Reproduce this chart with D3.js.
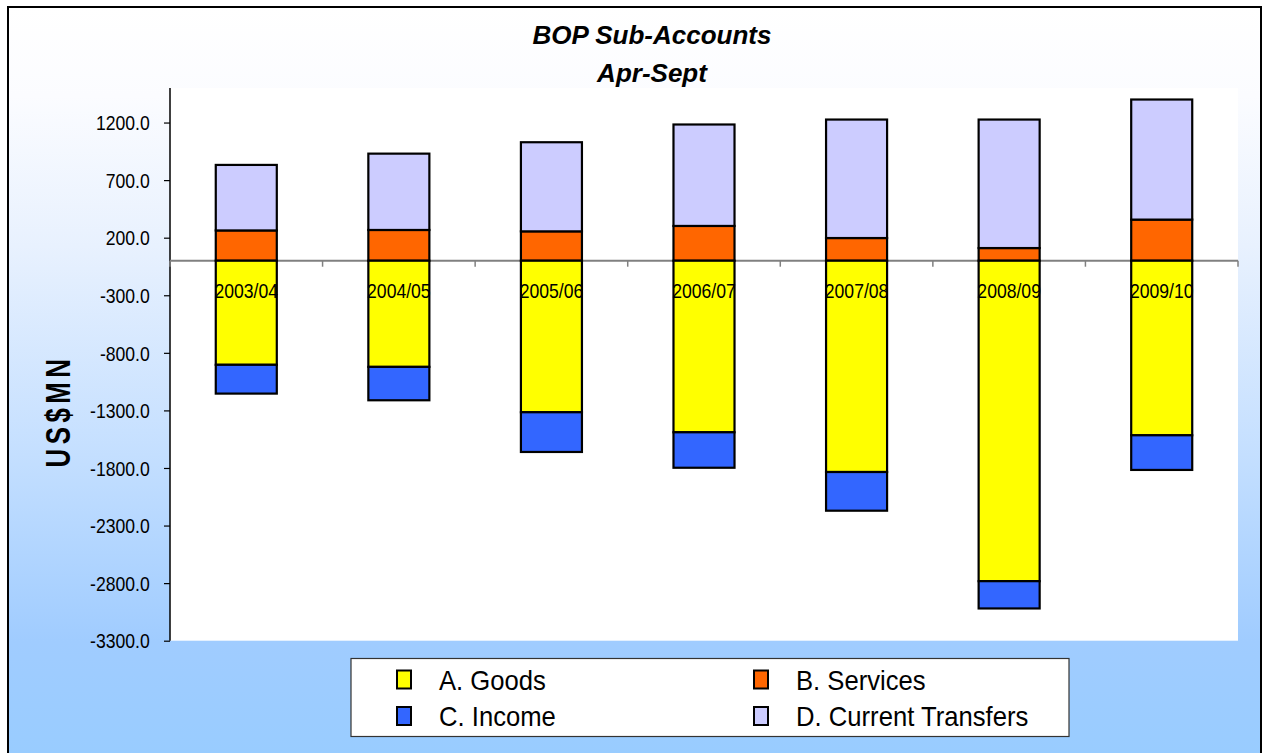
<!DOCTYPE html>
<html>
<head>
<meta charset="utf-8">
<script src="https://cdn.jsdelivr.net/npm/d3@7"></script>
<style>
  html, body { margin: 0; padding: 0; background: #ffffff; }
  svg { display: block; }
  text { font-family: "Liberation Sans", Arial, sans-serif; }
</style>
</head>
<body>
<svg id="chart" width="1262" height="753"></svg>
<script>
const categories = ["2003/04", "2004/05", "2005/06", "2006/07", "2007/08", "2008/09", "2009/10"];
const goods = [-904, -922, -1316, -1490, -1835, -2783, -1516];
const services = [263, 267, 255, 302, 197, 110, 357];
const income = [-250, -290, -345, -308, -336, -237, -301];
const transfers = [569, 663, 774, 881, 1029, 1116, 1043];
const seriesNames = ["A. Goods", "B. Services", "C. Income", "D. Current Transfers"];
const seriesColors = ["#FFFF00", "#FF6600", "#3366FF", "#CCCCFF"];
const yTicks = [-3300, -2800, -2300, -1800, -1300, -800, -300, 200, 700, 1200];
const titleLines = ["BOP Sub-Accounts", "Apr-Sept"];
const yTitle = "US$MN";

const svg = d3.select("#chart");
const defs = svg.append("defs");
const grad = defs.append("linearGradient")
  .attr("id", "bg").attr("gradientUnits", "userSpaceOnUse")
  .attr("x1", 0).attr("y1", 7).attr("x2", 0).attr("y2", 753);
[[0, "#ffffff"], [0.12, "#fbfcff"], [0.32, "#e8f1fe"], [0.6, "#c4dfff"], [0.85, "#a0ccff"], [1, "#99ccff"]]
  .forEach(([o, c]) => grad.append("stop").attr("offset", o).attr("stop-color", c));

// outer chart area
svg.append("rect").attr("x", 8).attr("y", 7).attr("width", 1253).attr("height", 760)
  .attr("fill", "url(#bg)").attr("stroke", "#000").attr("stroke-width", 2);

const plot = { left: 170, right: 1238, top: 88, bottom: 640.7 };

svg.append("rect").attr("x", plot.left).attr("y", plot.top)
  .attr("width", plot.right - plot.left).attr("height", plot.bottom - plot.top)
  .attr("fill", "#ffffff");

const x = d3.scaleBand().domain(categories).range([plot.left, plot.right])
  .paddingInner(0.6).paddingOuter(0.3);
const y = d3.scaleLinear().domain([-3300, 1500]).range([plot.bottom, plot.top]);

// title
svg.append("text").attr("x", 652).attr("y", 44).attr("text-anchor", "middle")
  .attr("font-size", 26).attr("font-weight", "bold").attr("font-style", "italic")
  .text(titleLines[0]);
svg.append("text").attr("x", 652).attr("y", 82).attr("text-anchor", "middle")
  .attr("font-size", 26).attr("font-weight", "bold").attr("font-style", "italic")
  .text(titleLines[1]);

// y axis
const yAxis = svg.append("g").attr("transform", `translate(${plot.left},0)`)
  .call(d3.axisLeft(y).tickValues(yTicks).tickFormat(d => d.toFixed(1)).tickSize(6).tickSizeOuter(0));
yAxis.select(".domain").attr("stroke", "#000").attr("stroke-width", 1.5)
  .attr("d", `M0,${plot.top}V${plot.bottom}`);
yAxis.selectAll(".tick line").attr("stroke", "#000").attr("stroke-width", 1.2);
yAxis.selectAll(".tick text")
  .attr("font-size", 20).attr("fill", "#000")
  .attr("x", -23).attr("dy", "0.36em")
  .attr("transform", "scale(0.88,1)");

// y axis title
svg.append("text")
  .attr("transform", "translate(70,411) rotate(-90) scale(0.74,1)")
  .attr("text-anchor", "middle").attr("font-size", 35).attr("font-weight", "bold")
  .attr("letter-spacing", 6).text(yTitle);

// stacks
const stacks = categories.map((c, i) => {
  const segs = [];
  segs.push({ c, s: 1, y0: 0, y1: services[i] });
  segs.push({ c, s: 3, y0: services[i], y1: services[i] + transfers[i] });
  segs.push({ c, s: 0, y0: 0, y1: goods[i] });
  segs.push({ c, s: 2, y0: goods[i], y1: goods[i] + income[i] });
  return segs;
}).flat();

// baseline (zero line)
svg.append("line").attr("x1", plot.left).attr("x2", plot.right)
  .attr("y1", y(0)).attr("y2", y(0)).attr("stroke", "#808080").attr("stroke-width", 2);
const step = x.step();
const bounds = d3.range(categories.length + 1).map(k => plot.left + k * step);
svg.append("g").selectAll("line").data(bounds).join("line")
  .attr("x1", d => d).attr("x2", d => d)
  .attr("y1", y(0)).attr("y2", y(0) + 6)
  .attr("stroke", "#808080").attr("stroke-width", 1.5);

svg.append("g").selectAll("rect").data(stacks).join("rect")
  .attr("x", d => x(d.c))
  .attr("width", x.bandwidth())
  .attr("y", d => y(Math.max(d.y0, d.y1)))
  .attr("height", d => Math.abs(y(d.y0) - y(d.y1)))
  .attr("fill", d => seriesColors[d.s])
  .attr("stroke", "#000").attr("stroke-width", 2.2);

// category labels
const xAxis = svg.append("g").attr("transform", `translate(0,${y(0)})`)
  .call(d3.axisBottom(x).tickSize(0).tickPadding(0));
xAxis.select(".domain").remove();
xAxis.selectAll(".tick text")
  .attr("font-size", 20).attr("fill", "#000")
  .attr("y", 37.5).attr("dy", 0).attr("x", 0)
  .attr("transform", "scale(0.88,1)");

// legend
const lg = svg.append("g");
lg.append("rect").attr("x", 351).attr("y", 658.5).attr("width", 718).attr("height", 78)
  .attr("fill", "#fff").attr("stroke", "#333").attr("stroke-width", 1.2);
const legPos = [[397, 670.5], [754, 670.5], [397, 707], [754, 707]];
seriesNames.forEach((n, i) => {
  const [lx, ly] = legPos[i];
  lg.append("rect").attr("x", lx).attr("y", ly).attr("width", 14).attr("height", 18)
    .attr("fill", seriesColors[i]).attr("stroke", "#000").attr("stroke-width", 2);
  lg.append("text").attr("transform", `translate(${lx + 42},${ly + 19}) scale(0.95,1)`)
    .attr("font-size", 27).attr("fill", "#000").text(n);
});
</script>
</body>
</html>
